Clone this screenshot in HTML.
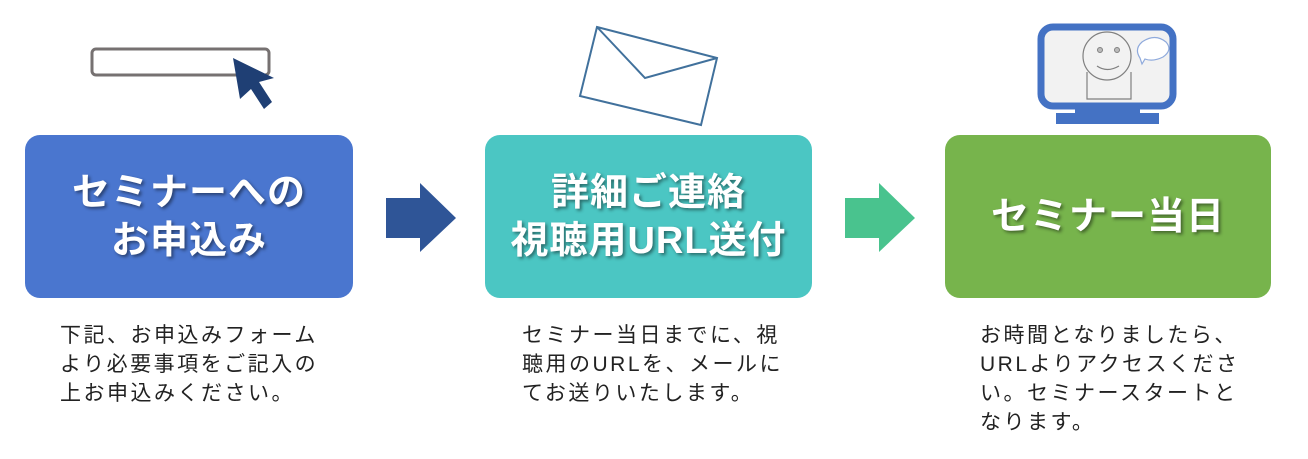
<!DOCTYPE html>
<html><head><meta charset="utf-8"><style>
body{margin:0;width:1308px;height:459px;background:#fff;position:relative;overflow:hidden;font-family:"Liberation Sans","Noto Sans CJK JP",sans-serif}
.box{position:absolute;top:135px;height:163px;border-radius:15px;color:#fff;font-weight:bold;font-size:38px;line-height:48px;letter-spacing:1px;display:flex;align-items:center;justify-content:center;text-align:center;text-shadow:2px 2px 3px rgba(0,0,0,.45)}
.t{position:absolute;top:321px;font-size:21px;line-height:29px;color:#222;letter-spacing:2.5px;white-space:nowrap}
</style></head><body>
<div class="box" style="left:25px;width:328px;background:#4a76cf">セミナーへの<br>お申込み</div>
<div class="box" style="left:485px;width:327px;background:#4bc6c3">詳細ご連絡<br>視聴用URL送付</div>
<div class="box" style="left:945px;width:326px;background:#77b44c">セミナー当日</div>
<svg width="1308" height="459" style="position:absolute;left:0;top:0">
<polygon points="386,198 420,198 420,183 456,218 420,252 420,238 386,238" fill="#2f5597"/>
<polygon points="845,198 879,198 879,183 915,218 879,252 879,238 845,238" fill="#49c38e"/>
<rect x="92" y="49" width="177" height="26" rx="4" fill="#fff" stroke="#767171" stroke-width="3"/>
<polygon points="233,58 274,78 259,82 272,102 264,109 251,89 240,99" fill="#1f3f74"/>
<polygon points="597,27 717,58 701,125 580,96" fill="#fff" stroke="#41719c" stroke-width="2"/>
<polyline points="597,27 645,78 717,58" fill="none" stroke="#41719c" stroke-width="2"/>
<rect x="1075" y="103" width="65" height="12" fill="#4472c4"/>
<rect x="1056" y="113" width="103" height="11" fill="#4472c4"/>
<rect x="1041" y="27" width="132" height="79" rx="12" fill="#f2f2f2" stroke="#4472c4" stroke-width="7"/>
<path d="M1087,72 L1087,99 L1131,99 L1131,72" fill="#f2f2f2" stroke="#808080" stroke-width="1.2"/>
<circle cx="1107" cy="56" r="24" fill="#f2f2f2" stroke="#808080" stroke-width="1.2"/>
<circle cx="1100" cy="50" r="2.5" fill="#bbb" stroke="#808080"/>
<circle cx="1117" cy="50" r="2.5" fill="#bbb" stroke="#808080"/>
<path d="M1097,66 Q1107,73 1119,66" fill="none" stroke="#808080" stroke-width="1.2"/>
<path d="M1140,58 Q1134,49 1142,42 Q1155,33 1166,42 Q1173,50 1163,57 Q1153,62 1145,59 L1142,64 Z" fill="#fff" stroke="#8faadc" stroke-width="1.2"/>
</svg>
<div class="t" style="left:60px">下記、お申込みフォーム<br>より必要事項をご記入の<br>上お申込みください。</div>
<div class="t" style="left:522px">セミナー当日までに、視<br>聴用のURLを、メールに<br>てお送りいたします。</div>
<div class="t" style="left:980px">お時間となりましたら、<br>URLよりアクセスくださ<br>い。セミナースタートと<br>なります。</div>
</body></html>
